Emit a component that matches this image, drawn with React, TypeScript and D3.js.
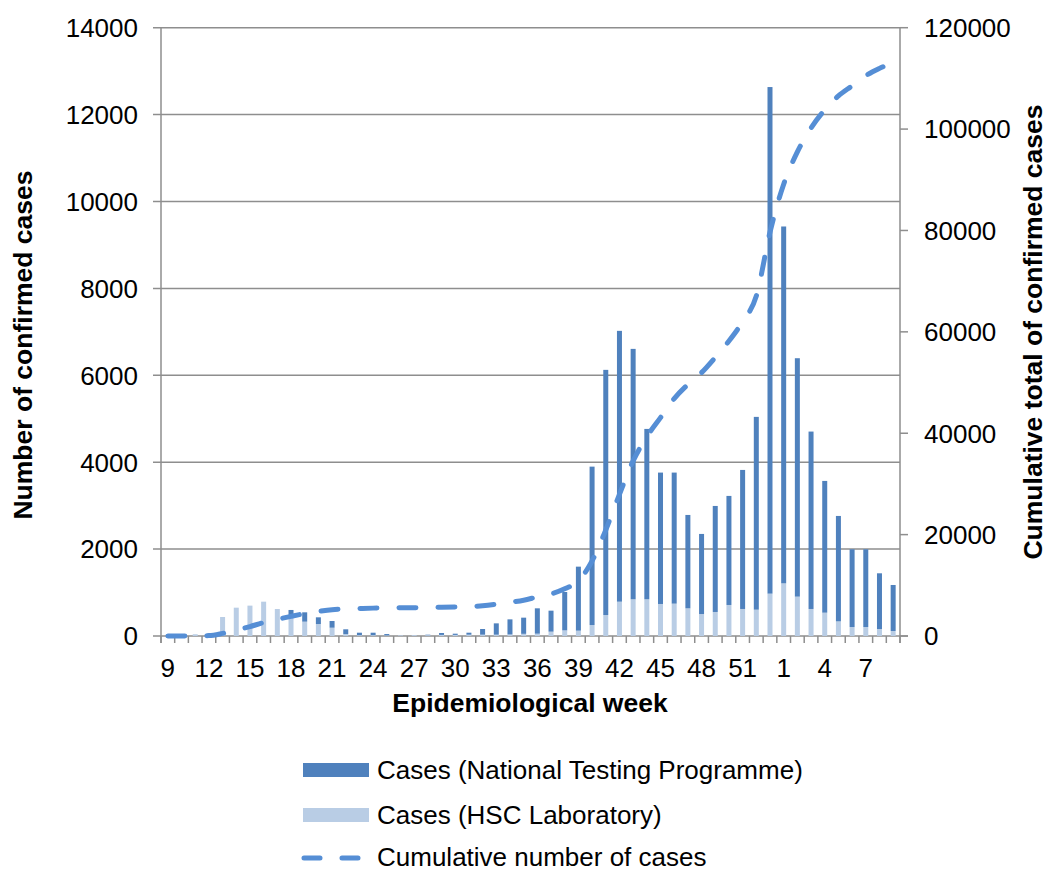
import React from "react";
import * as d3 from "d3";

// Epidemiological weeks: 2020 weeks 9..53, then 2021 weeks 1..9
const weeks: number[] = [
  9, 10, 11, 12, 13, 14, 15, 16, 17, 18, 19, 20, 21, 22, 23, 24, 25, 26, 27, 28,
  29, 30, 31, 32, 33, 34, 35, 36, 37, 38, 39, 40, 41, 42, 43, 44, 45, 46, 47, 48,
  49, 50, 51, 52, 53, 1, 2, 3, 4, 5, 6, 7, 8, 9,
];

// Cases (HSC Laboratory) – light segment, bottom of stack
const hscCases: number[] = [
  0, 5, 40, 30, 437, 652, 699, 790, 621, 483, 330, 276, 191, 45, 20, 20, 15, 15, 20, 20,
  25, 25, 30, 30, 30, 35, 50, 53, 100, 130, 123, 253, 483, 790, 845, 845, 737, 745, 637, 506,
  553, 714, 622, 606, 975, 1212, 906, 622, 537, 337, 207, 207, 161, 115,
];

// Cases (National Testing Programme) – dark segment, top of stack
const ntpCases: number[] = [
  0, 0, 0, 0, 0, 0, 0, 0, 0, 116, 215, 154, 154, 109, 56, 56, 30, 0, 0, 10,
  44, 28, 46, 131, 261, 348, 372, 584, 483, 883, 1473, 3645, 5642, 6233, 5763, 3921, 3024, 3016, 2149, 1843,
  2440, 2510, 3200, 4437, 11659, 8213, 5487, 4083, 3032, 2426, 1789, 1789, 1282, 1059,
];

const leftTicks: number[] = [0, 2000, 4000, 6000, 8000, 10000, 12000, 14000];
const rightTicks: number[] = [0, 20000, 40000, 60000, 80000, 100000, 120000];

const seriesNames = {
  ntp: "Cases (National Testing Programme)",
  hsc: "Cases (HSC Laboratory)",
  cum: "Cumulative number of cases",
};

const COLORS = {
  ntp: "#4F81BD",
  hsc: "#B9CDE5",
  cum: "#558ED5",
  grid: "#8E8E8E",
  text: "#000000",
};

const FONT = "'Liberation Sans', Arial, Helvetica, sans-serif";

export default function App() {
  const W = 1048;
  const H = 871;
  const plot = { left: 161, right: 900, top: 27.7, bottom: 636 };

  const keys = weeks.map((w, i) => `${i}-${w}`);
  const x = d3.scaleBand<string>().domain(keys).range([plot.left, plot.right]).padding(0);
  const yL = d3.scaleLinear().domain([0, 14000]).range([plot.bottom, plot.top]);
  const yR = d3.scaleLinear().domain([0, 120000]).range([plot.bottom, plot.top]);

  const totals = weeks.map((_, i) => hscCases[i] + ntpCases[i]);
  const cumulative = Array.from(d3.cumsum(totals));

  const barW = 5;
  const cx = (i: number) => (x(keys[i]) as number) + x.bandwidth() / 2;

  const line = d3
    .line<number>()
    .x((_, i) => cx(i))
    .y((d) => yR(d))
    .curve(d3.curveMonotoneX);

  const bw = x.bandwidth();
  const boundaries = d3.range(keys.length + 1).map((i) => plot.left + i * bw);

  const fs = 26;
  const fsBold = 26.5;
  const dash = "17 22";
  const lw = 5;

  return (
    <svg
      width={W}
      height={H}
      viewBox={`0 0 ${W} ${H}`}
      style={{ position: "absolute", left: 0, top: 0, background: "#fff" }}
      fontFamily={FONT}
    >
      <rect x={0} y={0} width={W} height={H} fill="#fff" />

      {/* gridlines */}
      {leftTicks.map((t) => (
        <line
          key={`g${t}`}
          x1={plot.left - 8}
          x2={t === 0 ? plot.right + 8 : plot.right}
          y1={yL(t)}
          y2={yL(t)}
          stroke={COLORS.grid}
          strokeWidth={1.5}
        />
      ))}

      {/* left axis line */}
      <line x1={plot.left} x2={plot.left} y1={plot.top} y2={plot.bottom + 7} stroke={COLORS.grid} strokeWidth={1.5} />
      {/* right axis line and ticks */}
      <line x1={plot.right} x2={plot.right} y1={plot.top} y2={plot.bottom + 7} stroke={COLORS.grid} strokeWidth={1.5} />
      {rightTicks.map((t) => (
        <line key={`rt${t}`} x1={plot.right} x2={plot.right + 8} y1={yR(t)} y2={yR(t)} stroke={COLORS.grid} strokeWidth={1.5} />
      ))}
      {/* x ticks */}
      {boundaries.map((bx, i) => (
        <line key={`xt${i}`} x1={bx} x2={bx} y1={plot.bottom} y2={plot.bottom + 7} stroke={COLORS.grid} strokeWidth={1.5} />
      ))}

      {/* bars */}
      {weeks.map((_, i) => {
        const x0 = cx(i) - barW / 2;
        const hTop = yL(hscCases[i]);
        const nTop = yL(hscCases[i] + ntpCases[i]);
        return (
          <g key={`b${i}`}>
            {hscCases[i] > 0 && (
              <rect x={x0} y={hTop} width={barW} height={plot.bottom - hTop} fill={COLORS.hsc} />
            )}
            {ntpCases[i] > 0 && (
              <rect x={x0} y={nTop} width={barW} height={hTop - nTop} fill={COLORS.ntp} />
            )}
          </g>
        );
      })}

      {/* cumulative line */}
      <path
        d={line(cumulative) || ""}
        fill="none"
        stroke={COLORS.cum}
        strokeWidth={lw}
        strokeLinecap="round"
        strokeDasharray={dash}
      />

      {/* left tick labels */}
      {leftTicks.map((t) => (
        <text key={`ll${t}`} x={138} y={yL(t)} dy="0.36em" textAnchor="end" fontSize={fs} fill={COLORS.text}>
          {t}
        </text>
      ))}
      {/* right tick labels */}
      {rightTicks.map((t) => (
        <text key={`rl${t}`} x={924} y={yR(t)} dy="0.36em" textAnchor="start" fontSize={fs} fill={COLORS.text}>
          {t}
        </text>
      ))}
      {/* x tick labels */}
      {weeks.map((w, i) =>
        i % 3 === 0 ? (
          <text key={`xl${i}`} x={cx(i)} y={677} textAnchor="middle" fontSize={fs} fill={COLORS.text}>
            {w}
          </text>
        ) : null
      )}

      {/* axis titles */}
      <text x={530} y={712} textAnchor="middle" fontSize={fsBold} fontWeight="bold" fill={COLORS.text}>
        Epidemiological week
      </text>
      <text
        transform={`translate(22,345) rotate(-90)`}
        dy="0.36em"
        textAnchor="middle"
        fontSize={fsBold}
        fontWeight="bold"
        fill={COLORS.text}
      >
        Number of confirmed cases
      </text>
      <text
        transform={`translate(1032,332) rotate(-90)`}
        dy="0.36em"
        textAnchor="middle"
        fontSize={fsBold}
        fontWeight="bold"
        fill={COLORS.text}
      >
        Cumulative total of confirmed cases
      </text>

      {/* legend */}
      <rect x={303} y={763} width={66} height={14} fill={COLORS.ntp} />
      <text x={377} y={770} dy="0.36em" fontSize={fs} fill={COLORS.text}>
        {seriesNames.ntp}
      </text>
      <rect x={303} y={808} width={66} height={14} fill={COLORS.hsc} />
      <text x={377} y={815} dy="0.36em" fontSize={fs} fill={COLORS.text}>
        {seriesNames.hsc}
      </text>
      <line
        x1={304}
        x2={369}
        y1={858}
        y2={858}
        stroke={COLORS.cum}
        strokeWidth={lw}
        strokeLinecap="round"
        strokeDasharray="16 22"
      />
      <text x={377} y={857} dy="0.36em" fontSize={fs} fill={COLORS.text}>
        {seriesNames.cum}
      </text>
    </svg>
  );
}
